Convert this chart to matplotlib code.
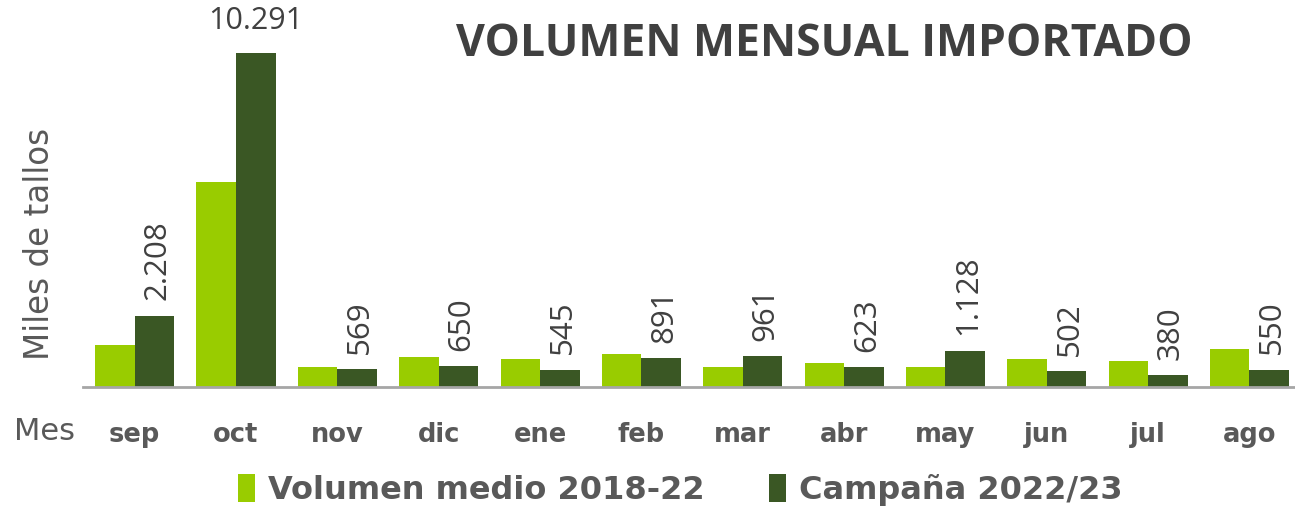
import matplotlib
matplotlib.use('Agg')
import matplotlib.pyplot as plt
import numpy as np

meses = ['sep', 'oct', 'nov', 'dic', 'ene', 'feb', 'mar', 'abr', 'may', 'jun', 'jul', 'ago']
medio_2018_22 = [1310, 6320, 628, 945, 874, 1019, 628, 751, 628, 874, 822, 1191]
campana_2022_23 = [2208, 10291, 569, 650, 545, 891, 961, 623, 1128, 502, 380, 550]
etiquetas = ['2.208', '10.291', '569', '650', '545', '891', '961', '623', '1.128', '502', '380', '550']

light = '#99CC00'
dark = '#3A5724'
gris = '#595959'

W, H = 1295, 509
fig = plt.figure(figsize=(W / 100, H / 100), dpi=100)
# axes placed in pixel terms
left, right, bottom, top = 83, 1295, 387.4, 20
ax = fig.add_axes([left / W, (H - bottom) / H, (right - left) / W, (bottom - top) / H])

x = np.arange(len(meses))
w = 0.39
b1 = ax.bar(x - w / 2, medio_2018_22, w, color=light, label='Volumen medio 2018-22')
b2 = ax.bar(x + w / 2, campana_2022_23, w, color=dark, label='Campaña 2022/23')

ax.set_xlim(-0.51, 11.45)
ax.set_ylim(0, 367.4 * 30.77)

for i, (v, t) in enumerate(zip(campana_2022_23, etiquetas)):
    if i == 1:
        ax.annotate(t, (x[i] + w / 2, v), xytext=(0, 12), textcoords='offset points',
                    ha='center', va='bottom', fontsize=22, color='#404040', family='Open Sans')
    else:
        ax.annotate(t, (x[i] + w / 2 + 0.03, v), xytext=(0, 11), textcoords='offset points',
                    ha='center', va='bottom', rotation=90, fontsize=22.5, color='#404040',
                    family='Open Sans')

for s in ['top', 'right', 'left']:
    ax.spines[s].set_visible(False)
ax.spines['bottom'].set_color('#A6A6A6')
ax.spines['bottom'].set_linewidth(2)
ax.set_yticks([])
ax.set_xticks(x)
ax.set_xticklabels(meses, fontsize=18.5, fontweight='bold', color=gris)
ax.tick_params(axis='x', length=0, pad=25)

fig.text(14 / W, 1 - 432 / H, 'Mes', fontsize=22, color=gris, va='center', ha='left')
fig.text(40 / W, 1 - 244 / H, 'Miles de tallos', fontsize=23.5, color=gris, rotation=90,
         va='center', ha='center')
fig.text(824 / W, 1 - 45 / H, 'VOLUMEN MENSUAL IMPORTADO', fontsize=32, fontweight='bold',
         color='#404040', family='Open Sans', ha='center', va='center')

fig.legend(handles=[b1, b2], loc='center', bbox_to_anchor=(680 / W, 1 - 490 / H), ncol=2,
           frameon=False, handlelength=0.55, handleheight=1.0, handletextpad=0.4,
           columnspacing=2.0, prop={'size': 23, 'weight': 'bold'}, labelcolor=gris)

fig.savefig('out.png', dpi=100)
